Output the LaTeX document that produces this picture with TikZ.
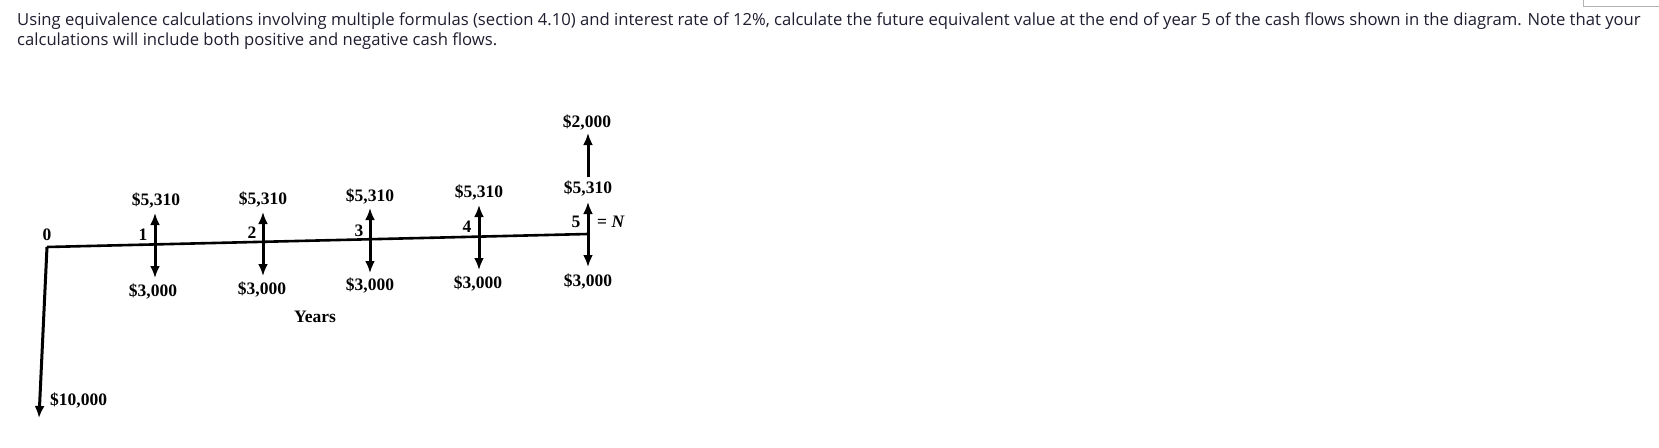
\documentclass[tikz,border=0pt]{standalone}
\usepackage{fontspec}
\setmainfont{Liberation Serif}
\newfontfamily\osans{Open Sans}
\usetikzlibrary{arrows.meta}
\definecolor{qcol}{HTML}{1E1E30}
\begin{document}
\begin{tikzpicture}[x=1pt,y=-1pt,
  cf/.style={line width=3pt, -{Latex[length=12pt,width=10pt]}},
  cfb/.style={line width=3pt, {Latex[length=12pt,width=10pt]}-{Latex[length=12pt,width=10pt]}},
  axis/.style={line width=2.6pt},
  lbl/.style={font=\fontsize{17.5}{17.5}\selectfont\bfseries, inner sep=0pt, text=black},
  qtext/.style={font=\osans\fontsize{16.65}{20}\selectfont, anchor=base west, inner sep=0pt, text=qcol}]
\useasboundingbox (0,0) rectangle (1659,447);
\fill[white] (0,0) rectangle (1659,447);
% question text
\node[qtext] (q1) at (17,25) {Using equivalence calculations involving multiple formulas (section 4.10) and interest rate of 12\%, calculate the future equivalent value at the end of year 5 of the cash flows shown in the diagram. Note that your};
\node[qtext] (q2) at (17,45) {calculations will include both positive and negative cash flows.};
% top-right box fragment
\draw[gray!60, line width=0.8pt] (1583,-2) -- (1583,6) -- (1662,6);
% axis
\coordinate (t0) at (47,247);
\coordinate (t5) at (588,234);
\draw[axis] (t0) -- (t5);
\coordinate (bot0) at (39,418);
\draw[cf] (t0) -- (bot0);
% year arrows
\coordinate (u1) at (155,213); \coordinate (d1) at (155,278);
\coordinate (u2) at (263,212); \coordinate (d2) at (263,276);
\coordinate (u3) at (370,208); \coordinate (d3) at (370,273);
\coordinate (u4) at (479,205); \coordinate (d4) at (479,270);
\coordinate (u5) at (588,202); \coordinate (d5) at (588,267);
\foreach \i in {1,...,5} \draw[cfb] (u\i) -- (d\i);
\coordinate (e0) at (588,177); \coordinate (e1) at (588,133);
\draw[cf] (e0) -- (e1);
% labels
\node[lbl] (n0) at (47,235) {0};
\node[lbl] (n1) at (143,235) {1};
\node[lbl] (n2) at (252,233) {2};
\node[lbl] (n3) at (359,231) {3};
\node[lbl] (n4) at (467,227) {4};
\node[lbl] (n5) at (576,222) {5};
\node[lbl, anchor=west] (nN) at (597,222) {= \textit{N}};
\node[lbl] (p1) at (156,201) {\$5,310};
\node[lbl] (p2) at (263,200) {\$5,310};
\node[lbl] (p3) at (370,197) {\$5,310};
\node[lbl] (p4) at (479,193) {\$5,310};
\node[lbl] (p5) at (588,189) {\$5,310};
\node[lbl] (m1) at (153,292) {\$3,000};
\node[lbl] (m2) at (262,290) {\$3,000};
\node[lbl] (m3) at (370,286) {\$3,000};
\node[lbl] (m4) at (478,284) {\$3,000};
\node[lbl] (m5) at (588,282) {\$3,000};
\node[lbl] (s5) at (587,123) {\$2,000};
\node[lbl] (yr) at (315,317) {Years};
\node[lbl, anchor=west] (b0) at (50,401) {\$10,000};
\end{tikzpicture}
\end{document}
